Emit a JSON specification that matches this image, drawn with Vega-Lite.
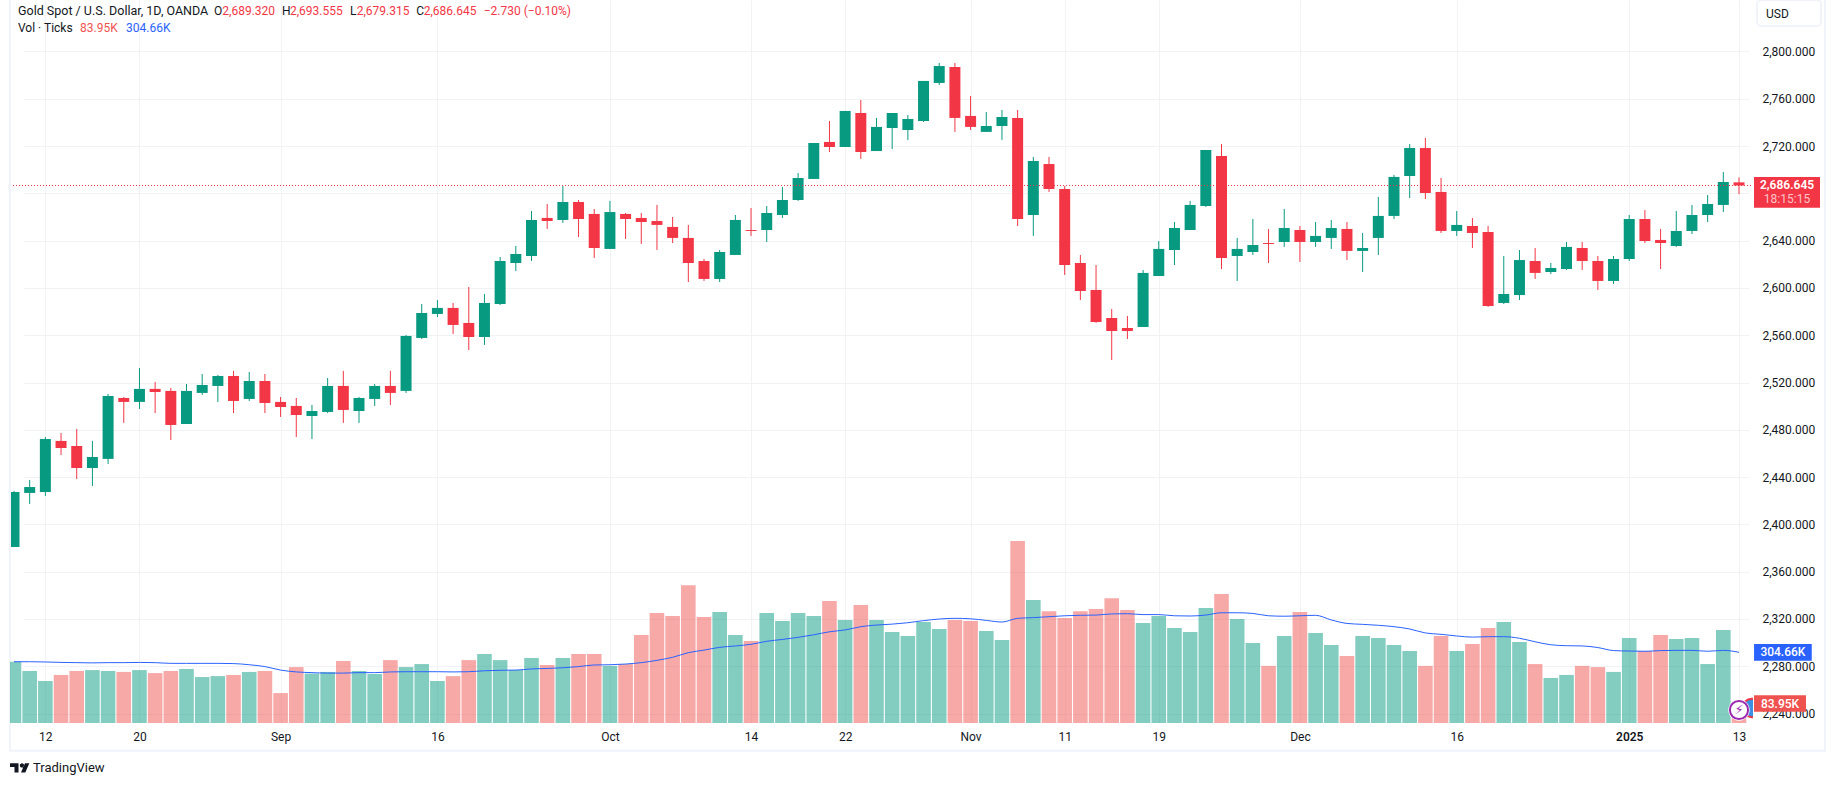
{
"$schema":"https://vega.github.io/schema/vega-lite/v6.json",
"width":1743,"height":723,"autosize":"none",
"padding":{"left":10,"top":0,"right":82,"bottom":65},
"background":"white",
"config":{"view":{"stroke":null},"font":"Roboto","text":{"font":"Roboto","fontSize":12,"baseline":"middle","align":"left"}},
"data":{"values":[
{"date":"2024-08-08","dir":"up","open":2380.9,"high":2428.3,"low":2380.9,"close":2427.4,"vol":264,"ma":264},
{"date":"2024-08-09","dir":"up","open":2426.6,"high":2437.6,"low":2417.3,"close":2431.6,"vol":224,"ma":264},
{"date":"2024-08-12","dir":"up","open":2427.4,"high":2473.9,"low":2424.1,"close":2472.2,"vol":181,"ma":263},
{"date":"2024-08-13","dir":"down","open":2470.6,"high":2477.3,"low":2458.7,"close":2464.6,"vol":207,"ma":261},
{"date":"2024-08-14","dir":"down","open":2466.3,"high":2480.7,"low":2438.4,"close":2447.7,"vol":224,"ma":260},
{"date":"2024-08-15","dir":"up","open":2447.7,"high":2470.6,"low":2432.5,"close":2457.0,"vol":228,"ma":259},
{"date":"2024-08-16","dir":"up","open":2455.4,"high":2510.3,"low":2451.1,"close":2508.6,"vol":224,"ma":260},
{"date":"2024-08-19","dir":"down","open":2506.9,"high":2507.8,"low":2485.8,"close":2503.6,"vol":220,"ma":260},
{"date":"2024-08-20","dir":"up","open":2503.6,"high":2532.3,"low":2497.6,"close":2514.6,"vol":228,"ma":261},
{"date":"2024-08-21","dir":"down","open":2514.6,"high":2520.5,"low":2494.2,"close":2512.0,"vol":215,"ma":260},
{"date":"2024-08-22","dir":"down","open":2512.9,"high":2515.4,"low":2471.4,"close":2484.1,"vol":224,"ma":257},
{"date":"2024-08-23","dir":"up","open":2484.9,"high":2518.8,"low":2484.9,"close":2512.9,"vol":233,"ma":257},
{"date":"2024-08-26","dir":"up","open":2511.2,"high":2527.2,"low":2509.5,"close":2517.9,"vol":198,"ma":257},
{"date":"2024-08-27","dir":"up","open":2517.1,"high":2526.4,"low":2503.6,"close":2525.5,"vol":202,"ma":257},
{"date":"2024-08-28","dir":"down","open":2525.5,"high":2529.8,"low":2494.2,"close":2504.4,"vol":207,"ma":256},
{"date":"2024-08-29","dir":"up","open":2506.1,"high":2528.9,"low":2504.4,"close":2521.3,"vol":220,"ma":251},
{"date":"2024-08-30","dir":"down","open":2521.3,"high":2527.2,"low":2494.2,"close":2502.7,"vol":224,"ma":243},
{"date":"2024-09-02","dir":"down","open":2503.6,"high":2507.8,"low":2490.9,"close":2499.3,"vol":129,"ma":228},
{"date":"2024-09-03","dir":"down","open":2500.2,"high":2506.9,"low":2473.9,"close":2492.5,"vol":241,"ma":220},
{"date":"2024-09-04","dir":"up","open":2491.7,"high":2501.0,"low":2472.2,"close":2495.9,"vol":213,"ma":217},
{"date":"2024-09-05","dir":"up","open":2495.1,"high":2523.8,"low":2494.2,"close":2517.1,"vol":220,"ma":215},
{"date":"2024-09-06","dir":"down","open":2517.1,"high":2529.8,"low":2485.8,"close":2496.8,"vol":267,"ma":215},
{"date":"2024-09-09","dir":"up","open":2495.9,"high":2507.8,"low":2485.8,"close":2506.9,"vol":224,"ma":217},
{"date":"2024-09-10","dir":"up","open":2506.1,"high":2518.8,"low":2500.2,"close":2517.1,"vol":211,"ma":217},
{"date":"2024-09-11","dir":"down","open":2517.1,"high":2529.8,"low":2501.0,"close":2511.2,"vol":271,"ma":220},
{"date":"2024-09-12","dir":"up","open":2512.9,"high":2560.2,"low":2511.2,"close":2559.4,"vol":241,"ma":221},
{"date":"2024-09-13","dir":"up","open":2557.7,"high":2586.4,"low":2556.8,"close":2578.8,"vol":254,"ma":221},
{"date":"2024-09-16","dir":"up","open":2578.0,"high":2589.8,"low":2575.4,"close":2583.1,"vol":181,"ma":221},
{"date":"2024-09-17","dir":"down","open":2583.1,"high":2587.3,"low":2561.1,"close":2568.7,"vol":202,"ma":220},
{"date":"2024-09-18","dir":"down","open":2570.4,"high":2600.8,"low":2547.5,"close":2558.5,"vol":271,"ma":221},
{"date":"2024-09-19","dir":"up","open":2558.5,"high":2594.9,"low":2551.8,"close":2587.3,"vol":297,"ma":225},
{"date":"2024-09-20","dir":"up","open":2586.4,"high":2626.2,"low":2585.6,"close":2622.8,"vol":271,"ma":227},
{"date":"2024-09-23","dir":"up","open":2621.1,"high":2635.5,"low":2614.3,"close":2628.7,"vol":228,"ma":228},
{"date":"2024-09-24","dir":"up","open":2627.0,"high":2665.1,"low":2622.8,"close":2657.5,"vol":280,"ma":233},
{"date":"2024-09-25","dir":"down","open":2659.2,"high":2671.0,"low":2649.9,"close":2656.6,"vol":250,"ma":235},
{"date":"2024-09-26","dir":"up","open":2657.5,"high":2686.2,"low":2655.0,"close":2672.7,"vol":280,"ma":238},
{"date":"2024-09-27","dir":"down","open":2672.7,"high":2674.4,"low":2643.1,"close":2658.3,"vol":297,"ma":243},
{"date":"2024-09-30","dir":"down","open":2662.6,"high":2666.8,"low":2625.3,"close":2633.8,"vol":297,"ma":250},
{"date":"2024-10-01","dir":"up","open":2633.0,"high":2673.6,"low":2633.0,"close":2664.2,"vol":246,"ma":251},
{"date":"2024-10-02","dir":"down","open":2662.6,"high":2663.4,"low":2641.4,"close":2658.3,"vol":254,"ma":254},
{"date":"2024-10-03","dir":"down","open":2659.2,"high":2663.4,"low":2637.2,"close":2655.8,"vol":379,"ma":260},
{"date":"2024-10-04","dir":"down","open":2656.6,"high":2670.2,"low":2632.1,"close":2653.3,"vol":474,"ma":270},
{"date":"2024-10-07","dir":"down","open":2651.6,"high":2660.0,"low":2638.0,"close":2642.3,"vol":461,"ma":283},
{"date":"2024-10-08","dir":"down","open":2642.3,"high":2653.3,"low":2605.0,"close":2621.1,"vol":594,"ma":303},
{"date":"2024-10-09","dir":"down","open":2622.8,"high":2624.5,"low":2605.9,"close":2607.6,"vol":457,"ma":314},
{"date":"2024-10-10","dir":"up","open":2607.6,"high":2632.1,"low":2605.0,"close":2630.4,"vol":478,"ma":326},
{"date":"2024-10-11","dir":"up","open":2627.9,"high":2661.7,"low":2627.9,"close":2657.5,"vol":379,"ma":332},
{"date":"2024-10-14","dir":"down","open":2649.0,"high":2667.6,"low":2644.0,"close":2648.2,"vol":353,"ma":339},
{"date":"2024-10-15","dir":"up","open":2649.0,"high":2669.3,"low":2638.9,"close":2663.4,"vol":474,"ma":352},
{"date":"2024-10-16","dir":"up","open":2661.7,"high":2685.4,"low":2659.2,"close":2674.4,"vol":439,"ma":360},
{"date":"2024-10-17","dir":"up","open":2674.4,"high":2697.2,"low":2673.6,"close":2693.0,"vol":474,"ma":369},
{"date":"2024-10-18","dir":"up","open":2692.2,"high":2722.6,"low":2692.2,"close":2722.6,"vol":461,"ma":380},
{"date":"2024-10-21","dir":"down","open":2723.5,"high":2741.2,"low":2715.0,"close":2719.2,"vol":526,"ma":393},
{"date":"2024-10-22","dir":"up","open":2719.2,"high":2749.7,"low":2719.2,"close":2749.7,"vol":444,"ma":401},
{"date":"2024-10-23","dir":"down","open":2748.0,"high":2759.0,"low":2709.1,"close":2715.0,"vol":508,"ma":415},
{"date":"2024-10-24","dir":"up","open":2715.8,"high":2743.8,"low":2715.8,"close":2736.2,"vol":444,"ma":422},
{"date":"2024-10-25","dir":"up","open":2735.3,"high":2748.0,"low":2717.5,"close":2748.0,"vol":392,"ma":426},
{"date":"2024-10-28","dir":"up","open":2733.6,"high":2746.3,"low":2725.2,"close":2742.9,"vol":375,"ma":432},
{"date":"2024-10-29","dir":"up","open":2741.2,"high":2775.1,"low":2740.4,"close":2775.1,"vol":435,"ma":441},
{"date":"2024-10-30","dir":"up","open":2773.4,"high":2790.3,"low":2771.7,"close":2787.7,"vol":405,"ma":448},
{"date":"2024-10-31","dir":"down","open":2786.9,"high":2790.3,"low":2732.0,"close":2743.8,"vol":444,"ma":451},
{"date":"2024-11-01","dir":"down","open":2745.5,"high":2762.4,"low":2733.6,"close":2736.2,"vol":439,"ma":449},
{"date":"2024-11-04","dir":"up","open":2732.0,"high":2748.8,"low":2732.0,"close":2737.0,"vol":396,"ma":442},
{"date":"2024-11-05","dir":"up","open":2737.0,"high":2750.5,"low":2725.2,"close":2744.6,"vol":358,"ma":435},
{"date":"2024-11-06","dir":"down","open":2743.8,"high":2750.5,"low":2652.4,"close":2658.3,"vol":784,"ma":451},
{"date":"2024-11-07","dir":"up","open":2661.7,"high":2710.8,"low":2644.0,"close":2707.4,"vol":530,"ma":454},
{"date":"2024-11-08","dir":"down","open":2704.8,"high":2710.8,"low":2681.2,"close":2683.7,"vol":482,"ma":458},
{"date":"2024-11-11","dir":"down","open":2683.7,"high":2686.2,"low":2611.0,"close":2619.4,"vol":452,"ma":462},
{"date":"2024-11-12","dir":"down","open":2621.1,"high":2627.9,"low":2589.8,"close":2597.4,"vol":482,"ma":464},
{"date":"2024-11-13","dir":"down","open":2598.3,"high":2619.4,"low":2570.4,"close":2571.2,"vol":491,"ma":465},
{"date":"2024-11-14","dir":"down","open":2574.6,"high":2582.2,"low":2539.0,"close":2563.6,"vol":538,"ma":470},
{"date":"2024-11-15","dir":"down","open":2566.1,"high":2576.3,"low":2556.8,"close":2563.6,"vol":487,"ma":471},
{"date":"2024-11-18","dir":"up","open":2567.0,"high":2615.2,"low":2567.0,"close":2612.7,"vol":431,"ma":467},
{"date":"2024-11-19","dir":"up","open":2610.1,"high":2639.7,"low":2610.1,"close":2633.0,"vol":461,"ma":467},
{"date":"2024-11-20","dir":"up","open":2632.1,"high":2655.8,"low":2619.4,"close":2650.7,"vol":409,"ma":462},
{"date":"2024-11-21","dir":"up","open":2649.0,"high":2673.6,"low":2649.0,"close":2670.2,"vol":392,"ma":461},
{"date":"2024-11-22","dir":"up","open":2669.3,"high":2716.7,"low":2668.5,"close":2716.7,"vol":495,"ma":465},
{"date":"2024-11-25","dir":"down","open":2711.6,"high":2721.8,"low":2616.0,"close":2625.3,"vol":556,"ma":475},
{"date":"2024-11-26","dir":"up","open":2627.0,"high":2642.3,"low":2605.9,"close":2633.0,"vol":448,"ma":475},
{"date":"2024-11-27","dir":"up","open":2630.4,"high":2658.3,"low":2627.9,"close":2636.3,"vol":345,"ma":472},
{"date":"2024-11-28","dir":"down","open":2638.0,"high":2649.9,"low":2621.1,"close":2637.2,"vol":246,"ma":462},
{"date":"2024-11-29","dir":"up","open":2638.9,"high":2666.8,"low":2634.7,"close":2650.7,"vol":375,"ma":460},
{"date":"2024-12-02","dir":"down","open":2649.0,"high":2652.4,"low":2622.0,"close":2638.9,"vol":478,"ma":462},
{"date":"2024-12-03","dir":"up","open":2638.9,"high":2655.8,"low":2634.7,"close":2644.0,"vol":388,"ma":464},
{"date":"2024-12-04","dir":"up","open":2642.3,"high":2657.5,"low":2633.0,"close":2650.7,"vol":336,"ma":444},
{"date":"2024-12-05","dir":"down","open":2649.9,"high":2655.8,"low":2623.6,"close":2631.3,"vol":289,"ma":429},
{"date":"2024-12-06","dir":"up","open":2631.3,"high":2646.5,"low":2613.5,"close":2633.8,"vol":375,"ma":425},
{"date":"2024-12-09","dir":"up","open":2642.3,"high":2677.0,"low":2627.9,"close":2660.9,"vol":366,"ma":421},
{"date":"2024-12-10","dir":"up","open":2660.9,"high":2695.6,"low":2658.3,"close":2693.9,"vol":336,"ma":415},
{"date":"2024-12-11","dir":"up","open":2694.7,"high":2721.8,"low":2676.1,"close":2718.4,"vol":310,"ma":405},
{"date":"2024-12-12","dir":"down","open":2718.4,"high":2726.9,"low":2675.2,"close":2680.3,"vol":246,"ma":388},
{"date":"2024-12-13","dir":"down","open":2681.2,"high":2693.0,"low":2646.5,"close":2648.2,"vol":375,"ma":382},
{"date":"2024-12-16","dir":"up","open":2648.2,"high":2665.1,"low":2644.0,"close":2653.3,"vol":310,"ma":375},
{"date":"2024-12-17","dir":"down","open":2652.4,"high":2659.2,"low":2633.8,"close":2646.5,"vol":340,"ma":370},
{"date":"2024-12-18","dir":"down","open":2647.3,"high":2652.4,"low":2583.9,"close":2584.7,"vol":409,"ma":372},
{"date":"2024-12-19","dir":"up","open":2587.3,"high":2627.0,"low":2586.4,"close":2594.9,"vol":435,"ma":372},
{"date":"2024-12-20","dir":"up","open":2594.0,"high":2632.1,"low":2589.8,"close":2623.6,"vol":349,"ma":365},
{"date":"2024-12-23","dir":"down","open":2622.8,"high":2633.8,"low":2607.6,"close":2612.7,"vol":254,"ma":350},
{"date":"2024-12-24","dir":"up","open":2613.5,"high":2621.1,"low":2611.8,"close":2616.9,"vol":194,"ma":337},
{"date":"2024-12-26","dir":"up","open":2616.0,"high":2638.9,"low":2615.2,"close":2634.7,"vol":207,"ma":333},
{"date":"2024-12-27","dir":"down","open":2633.8,"high":2638.9,"low":2615.2,"close":2622.8,"vol":246,"ma":332},
{"date":"2024-12-30","dir":"down","open":2622.8,"high":2627.0,"low":2598.3,"close":2605.9,"vol":241,"ma":325},
{"date":"2024-12-31","dir":"up","open":2605.9,"high":2627.0,"low":2603.3,"close":2624.5,"vol":220,"ma":312},
{"date":"2025-01-02","dir":"up","open":2624.5,"high":2661.7,"low":2622.8,"close":2658.3,"vol":366,"ma":310},
{"date":"2025-01-03","dir":"down","open":2658.3,"high":2665.9,"low":2638.0,"close":2639.7,"vol":310,"ma":309},
{"date":"2025-01-06","dir":"down","open":2640.6,"high":2649.9,"low":2616.0,"close":2638.0,"vol":379,"ma":312},
{"date":"2025-01-07","dir":"up","open":2635.5,"high":2665.1,"low":2634.7,"close":2648.2,"vol":362,"ma":313},
{"date":"2025-01-08","dir":"up","open":2648.2,"high":2670.2,"low":2645.6,"close":2661.7,"vol":366,"ma":313},
{"date":"2025-01-09","dir":"up","open":2661.7,"high":2678.6,"low":2655.8,"close":2671.0,"vol":254,"ma":309},
{"date":"2025-01-10","dir":"up","open":2670.2,"high":2698.1,"low":2664.2,"close":2689.6,"vol":401,"ma":313},
{"date":"2025-01-13","dir":"down","open":2689.32,"high":2693.555,"low":2679.315,"close":2686.645,"vol":83.95,"ma":304.66}
]},
"encoding":{"x":{"field":"date","type":"ordinal","title":null,
  "scale":{"type":"point","range":[4,1729],"padding":0},
  "axis":{"values":["2024-08-12","2024-08-20","2024-09-02","2024-09-16","2024-10-01","2024-10-14","2024-10-22","2024-11-01","2024-11-11","2024-11-19","2024-12-02","2024-12-16","2025-01-02","2025-01-13"],
    "labelExpr":"{'2024-08-12':'12','2024-08-20':'20','2024-09-02':'Sep','2024-09-16':'16','2024-10-01':'Oct','2024-10-14':'14','2024-10-22':'22','2024-11-01':'Nov','2024-11-11':'11','2024-11-19':'19','2024-12-02':'Dec','2024-12-16':'16','2025-01-02':'2025','2025-01-13':'13'}[datum.value]",
    "labelAngle":0,"labelOverlap":false,"labelFont":"Roboto","labelFontSize":12,"labelColor":"#131722","labelPadding":8,
    "labelFontWeight":{"condition":{"test":"datum.value=='2025-01-02'","value":600},"value":400},
    "domain":false,"ticks":false,"grid":true,"gridColor":"#f1f2f5","gridWidth":1,"title":null}}},
"layer":[
{"layer":[
  {"mark":{"type":"rule","strokeWidth":1,"clip":true},
   "encoding":{"y":{"field":"low","type":"quantitative","title":null,
      "scale":{"domain":[2232.0,2843.56],"nice":false,"zero":false},
      "axis":{"orient":"right","values":[2240,2280,2320,2360,2400,2440,2480,2520,2560,2600,2640,2680,2720,2760,2800],"format":",.3f","labelFont":"Roboto","labelFontSize":12,"labelColor":"#131722","labelPadding":9,"domain":false,"ticks":false,"grid":true,"gridColor":"#f1f2f5","gridWidth":1,"title":null}},
     "y2":{"field":"high"},
     "color":{"field":"dir","type":"nominal","scale":{"domain":["up","down"],"range":["#089981","#f23645"]},"legend":null}}},
  {"mark":{"type":"bar","width":11,"clip":true},
   "encoding":{"y":{"field":"open","type":"quantitative"},"y2":{"field":"close"},
     "color":{"field":"dir","type":"nominal","legend":null}}},
  {"transform":[{"filter":"datum.date=='2025-01-13'"}],
   "mark":{"type":"rule","color":"#f23645","strokeWidth":1,"strokeDash":[1,2],"xOffset":-4,"x2Offset":12},
   "encoding":{"x":{"datum":"2024-08-08","type":"ordinal"},"x2":{"datum":"2025-01-13"},"y":{"field":"close","type":"quantitative"}}},
  {"transform":[{"filter":"datum.date=='2025-01-13'"}],
   "mark":{"type":"tick","orient":"horizontal","color":"#f23645","opacity":1,"size":66,"thickness":30.7,"xOffset":48,"yOffset":6.8},
   "encoding":{"y":{"field":"close","type":"quantitative"}}},
  {"transform":[{"filter":"datum.date=='2025-01-13'"}],
   "mark":{"type":"text","text":"2,686.645","color":"white","fontWeight":600,"align":"center","dx":48,"dy":-1},
   "encoding":{"y":{"field":"close","type":"quantitative"}}},
  {"transform":[{"filter":"datum.date=='2025-01-13'"}],
   "mark":{"type":"text","text":"18:15:15","color":"#fbc4c9","align":"center","dx":48,"dy":13.5},
   "encoding":{"y":{"field":"close","type":"quantitative"}}},
  {"data":{"values":[{"at":"2025-01-13","price":2832.6}]},
   "mark":{"type":"tick","orient":"horizontal","fill":"white","stroke":"#f0f3fa","strokeWidth":2,"opacity":1,"size":64,"thickness":26,"xOffset":50,"cornerRadius":4},
   "encoding":{"x":{"field":"at","type":"ordinal"},"y":{"field":"price","type":"quantitative"}}},
  {"data":{"values":[{"at":"2025-01-13","price":2832.0,"label":"USD"}]},
   "mark":{"type":"text","color":"#131722","dx":27},
   "encoding":{"x":{"field":"at","type":"ordinal"},"y":{"field":"price","type":"quantitative"},"text":{"field":"label"}}},
  {"data":{"values":[{"at":"2024-08-08","top":2843.56,"bottom":2208.6}]},
   "mark":{"type":"rule","color":"#f0f3fa","strokeWidth":2,"xOffset":-4},
   "encoding":{"x":{"field":"at","type":"ordinal"},"y":{"field":"top","type":"quantitative"},"y2":{"field":"bottom"}}},
  {"data":{"values":[{"at":"2025-01-13","top":2843.56,"bottom":2208.6}]},
   "mark":{"type":"rule","color":"#f0f3fa","strokeWidth":2,"xOffset":86},
   "encoding":{"x":{"field":"at","type":"ordinal"},"y":{"field":"top","type":"quantitative"},"y2":{"field":"bottom"}}},
  {"data":{"values":[{"from":"2024-08-08","to":"2025-01-13","bottom":2208.6}]},
   "mark":{"type":"rule","color":"#f0f3fa","strokeWidth":2,"xOffset":-5,"x2Offset":87},
   "encoding":{"x":{"field":"from","type":"ordinal"},"x2":{"field":"to"},"y":{"field":"bottom","type":"quantitative"}}},
  {"data":{"values":[{"at":"2024-08-08","price":2194}]},
   "mark":{"type":"point","filled":true,"color":"#131722","opacity":1,"size":4,"xOffset":6,
     "shape":"M-10,-4.7 H-1.5 V4.7 H-5.5 V-1 H-10 Z M-0.2,-2.5 a2.2,2.2 0 1 0 4.4,0 a2.2,2.2 0 1 0 -4.4,0 Z M9.3,-4.7 L5.3,4.7 H1 L5,-4.7 Z"},
   "encoding":{"x":{"field":"at","type":"ordinal"},"y":{"field":"price","type":"quantitative"}}},
  {"data":{"values":[{"at":"2024-08-08","price":2194,"label":"TradingView"}]},
   "mark":{"type":"text","color":"#131722","fontSize":13,"dx":19},
   "encoding":{"x":{"field":"at","type":"ordinal"},"y":{"field":"price","type":"quantitative"},"text":{"field":"label"}}},
  {"data":{"values":[{"at":"2024-08-08","price":2834.0,"label":"Gold Spot / U.S. Dollar, 1D, OANDA"}]},
   "mark":{"type":"text","color":"#131722","fontSize":12.5,"dx":4},
   "encoding":{"x":{"field":"at","type":"ordinal"},"y":{"field":"price","type":"quantitative"},"text":{"field":"label"}}},
  {"data":{"values":[{"at":"2024-08-08","price":2834.0,"label":"O"}]},
   "mark":{"type":"text","color":"#131722","dx":200},
   "encoding":{"x":{"field":"at","type":"ordinal"},"y":{"field":"price","type":"quantitative"},"text":{"field":"label"}}},
  {"data":{"values":[{"at":"2024-08-08","price":2834.0,"label":"2,689.320"}]},
   "mark":{"type":"text","color":"#f23645","dx":208.3},
   "encoding":{"x":{"field":"at","type":"ordinal"},"y":{"field":"price","type":"quantitative"},"text":{"field":"label"}}},
  {"data":{"values":[{"at":"2024-08-08","price":2834.0,"label":"H"}]},
   "mark":{"type":"text","color":"#131722","dx":268},
   "encoding":{"x":{"field":"at","type":"ordinal"},"y":{"field":"price","type":"quantitative"},"text":{"field":"label"}}},
  {"data":{"values":[{"at":"2024-08-08","price":2834.0,"label":"2,693.555"}]},
   "mark":{"type":"text","color":"#f23645","dx":276},
   "encoding":{"x":{"field":"at","type":"ordinal"},"y":{"field":"price","type":"quantitative"},"text":{"field":"label"}}},
  {"data":{"values":[{"at":"2024-08-08","price":2834.0,"label":"L"}]},
   "mark":{"type":"text","color":"#131722","dx":336},
   "encoding":{"x":{"field":"at","type":"ordinal"},"y":{"field":"price","type":"quantitative"},"text":{"field":"label"}}},
  {"data":{"values":[{"at":"2024-08-08","price":2834.0,"label":"2,679.315"}]},
   "mark":{"type":"text","color":"#f23645","dx":342.7},
   "encoding":{"x":{"field":"at","type":"ordinal"},"y":{"field":"price","type":"quantitative"},"text":{"field":"label"}}},
  {"data":{"values":[{"at":"2024-08-08","price":2834.0,"label":"C"}]},
   "mark":{"type":"text","color":"#131722","dx":402.3},
   "encoding":{"x":{"field":"at","type":"ordinal"},"y":{"field":"price","type":"quantitative"},"text":{"field":"label"}}},
  {"data":{"values":[{"at":"2024-08-08","price":2834.0,"label":"2,686.645"}]},
   "mark":{"type":"text","color":"#f23645","dx":409.7},
   "encoding":{"x":{"field":"at","type":"ordinal"},"y":{"field":"price","type":"quantitative"},"text":{"field":"label"}}},
  {"data":{"values":[{"at":"2024-08-08","price":2834.0,"label":"−2.730 (−0.10%)"}]},
   "mark":{"type":"text","color":"#f23645","dx":469.7},
   "encoding":{"x":{"field":"at","type":"ordinal"},"y":{"field":"price","type":"quantitative"},"text":{"field":"label"}}},
  {"data":{"values":[{"at":"2024-08-08","price":2820.1,"label":"Vol · Ticks"}]},
   "mark":{"type":"text","color":"#131722","dx":4},
   "encoding":{"x":{"field":"at","type":"ordinal"},"y":{"field":"price","type":"quantitative"},"text":{"field":"label"}}},
  {"data":{"values":[{"at":"2024-08-08","price":2820.1,"label":"83.95K"}]},
   "mark":{"type":"text","color":"#ef5350","dx":66},
   "encoding":{"x":{"field":"at","type":"ordinal"},"y":{"field":"price","type":"quantitative"},"text":{"field":"label"}}},
  {"data":{"values":[{"at":"2024-08-08","price":2820.1,"label":"304.66K"}]},
   "mark":{"type":"text","color":"#2962ff","dx":112},
   "encoding":{"x":{"field":"at","type":"ordinal"},"y":{"field":"price","type":"quantitative"},"text":{"field":"label"}}}
]},
{"layer":[
  {"mark":{"type":"bar","width":14.6,"opacity":0.5,"clip":true},
   "encoding":{"y":{"field":"vol","type":"quantitative","axis":null,"title":null,"scale":{"domain":[0,3115],"nice":false}},
     "color":{"field":"dir","type":"nominal","scale":{"domain":["up","down"],"range":["#089981","#ef5350"]},"legend":null}}},
  {"mark":{"type":"line","color":"#2962ff","strokeWidth":1,"interpolate":"monotone"},
   "encoding":{"y":{"field":"ma","type":"quantitative"}}},
  {"transform":[{"filter":"datum.date=='2025-01-13'"}],
   "mark":{"type":"tick","orient":"horizontal","color":"#2962ff","opacity":1,"size":57.7,"thickness":16.7,"xOffset":43.9},
   "encoding":{"y":{"field":"ma","type":"quantitative"}}},
  {"transform":[{"filter":"datum.date=='2025-01-13'"}],
   "mark":{"type":"text","text":"304.66K","color":"white","fontWeight":500,"align":"center","dx":43.9},
   "encoding":{"y":{"field":"ma","type":"quantitative"}}},
  {"data":{"values":[{"at":"2025-01-13","vol":64.6}]},
   "mark":{"type":"point","shape":"circle","filled":true,"fill":"#3d8fe0","stroke":"#f23645","strokeWidth":2,"opacity":1,"size":340,"xOffset":12.7,"clip":true},
   "encoding":{"x":{"field":"at","type":"ordinal"},"y":{"field":"vol","type":"quantitative"}}},
  {"data":{"values":[{"at":"2025-01-13","vol":56}]},
   "mark":{"type":"point","shape":"circle","filled":true,"fill":"white","opacity":1,"size":460},
   "encoding":{"x":{"field":"at","type":"ordinal"},"y":{"field":"vol","type":"quantitative"}}},
  {"data":{"values":[{"at":"2025-01-13","vol":56}]},
   "mark":{"type":"point","shape":"circle","filled":true,"fill":"white","stroke":"#9c27b0","strokeWidth":2,"opacity":1,"size":330},
   "encoding":{"x":{"field":"at","type":"ordinal"},"y":{"field":"vol","type":"quantitative"}}},
  {"data":{"values":[{"at":"2025-01-13","vol":56,"label":"⚡"}]},
   "mark":{"type":"text","font":"DejaVu Sans","fontSize":13,"color":"#9c27b0","align":"center"},
   "encoding":{"x":{"field":"at","type":"ordinal"},"y":{"field":"vol","type":"quantitative"},"text":{"field":"label"}}},
  {"transform":[{"filter":"datum.date=='2025-01-13'"}],
   "mark":{"type":"tick","orient":"horizontal","color":"#ef5350","opacity":1,"size":52,"thickness":16.7,"xOffset":41},
   "encoding":{"y":{"field":"vol","type":"quantitative"}}},
  {"transform":[{"filter":"datum.date=='2025-01-13'"}],
   "mark":{"type":"text","text":"83.95K","color":"white","fontWeight":500,"align":"center","dx":41},
   "encoding":{"y":{"field":"vol","type":"quantitative"}}}
]}
],
"resolve":{"scale":{"y":"independent","color":"independent"}}
}
